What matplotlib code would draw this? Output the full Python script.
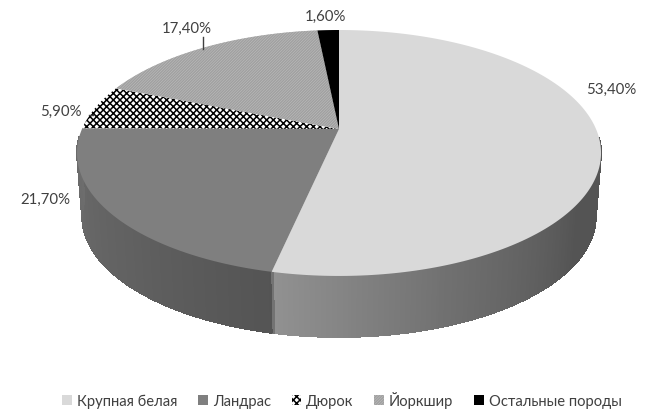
import numpy as np
import matplotlib
matplotlib.use("Agg")
import matplotlib.pyplot as plt
from matplotlib.patches import Patch, Polygon

plt.rcParams["font.family"] = ["Lato", "Noto Sans", "DejaVu Sans"]
plt.rcParams["hatch.linewidth"] = 1.1

# values (percent), clockwise from 12 o'clock
breeds = ["Крупная белая", "Ландрас", "Дюрок", "Йоркшир", "Остальные породы"]
shares = [53.4, 21.7, 5.9, 17.4, 1.6]

# face styles
face_colors = ["#d9d9d9", "#7f7f7f", "#ffffff", "#c6c6c6", "#000000"]
hatch_colors = ["#d9d9d9", "#7f7f7f", "#000000", "#a0a0a0", "#000000"]
hatches = [None, None, "xxxxx", "////////////", None]

# pie geometry in image pixels
cx, cy = 339, 129
scale_x, scale_y = 257, 118.3
persp = 0.195
wall_offset = 64
wall_shrink = 0.98

# wall shading: angle clockwise from the top -> grey level
wall_angles = [90, 125, 160, 192.2, 192.3, 225, 270]
wall_greys = [0.33, 0.33, 0.44, 0.57, 0.33, 0.38, 0.43]
label_pos = [(611, 90), (45, 200), (61, 112), (187, 29), (325, 17)]


def project(angle):
    """Map angles (degrees, clockwise from the top) to the tilted disc."""
    rad = np.radians(angle)
    u = np.sin(rad)
    v = -np.cos(rad)
    s = 1 / (1 - persp * v)
    return scale_x * u * s, scale_y * v * s


fig = plt.figure(figsize=(6.46, 4.19), dpi=100)
ax = fig.add_axes([0, 0, 1, 1])
ax.set_xlim(0, 646)
ax.set_ylim(419, 0)
ax.axis("off")

# side wall, thin strips with the shading
steps = np.arange(94, 267, 0.5)
for a0, a1 in zip(steps[:-1], steps[1:]):
    dx, dy = project(np.array([a0, a1]))
    top = np.column_stack([cx + dx, cy + dy])
    bottom = np.column_stack([cx + dx * wall_shrink, cy + wall_offset + dy * wall_shrink])
    grey = np.interp((a0 + a1) / 2, wall_angles, wall_greys)
    ax.add_patch(Polygon(np.vstack([top, bottom[::-1]]), facecolor=str(grey),
                         edgecolor=str(grey), linewidth=0.6, antialiased=False))

# top face
edges = np.concatenate([[0], np.cumsum(shares)]) * 3.6
for i in range(len(shares)):
    angles = np.linspace(edges[i], edges[i + 1], 200)
    dx, dy = project(angles)
    points = np.column_stack([cx + dx, cy + dy])
    points = np.vstack([[cx, cy], points])
    ax.add_patch(Polygon(points, facecolor=face_colors[i], edgecolor=hatch_colors[i],
                         hatch=hatches[i], linewidth=0))

# data labels
for value, (x, y) in zip(shares, label_pos):
    ax.text(x, y, f"{value:.2f}".replace(".", ",") + "%", fontsize=10.8, color="#404040",
            ha="center", va="center")

# leader lines
ax.plot([203, 203], [37, 49], color="#404040", linewidth=1)
ax.plot([89, 93], [115, 115], color="#404040", linewidth=1)

handles = [
    Patch(facecolor=face_colors[i], edgecolor=hatch_colors[i], hatch=hatches[i], linewidth=0)
    for i in range(len(breeds))
]
ax.legend(handles, breeds, ncol=5, loc="center", bbox_to_anchor=(342 / 646, 1 - 400 / 419),
          frameon=False, fontsize=10.6, labelcolor="#404040", handlelength=0.65, handleheight=0.65,
          handletextpad=0.35, columnspacing=1.4)

fig.savefig("out.png", dpi=100)
